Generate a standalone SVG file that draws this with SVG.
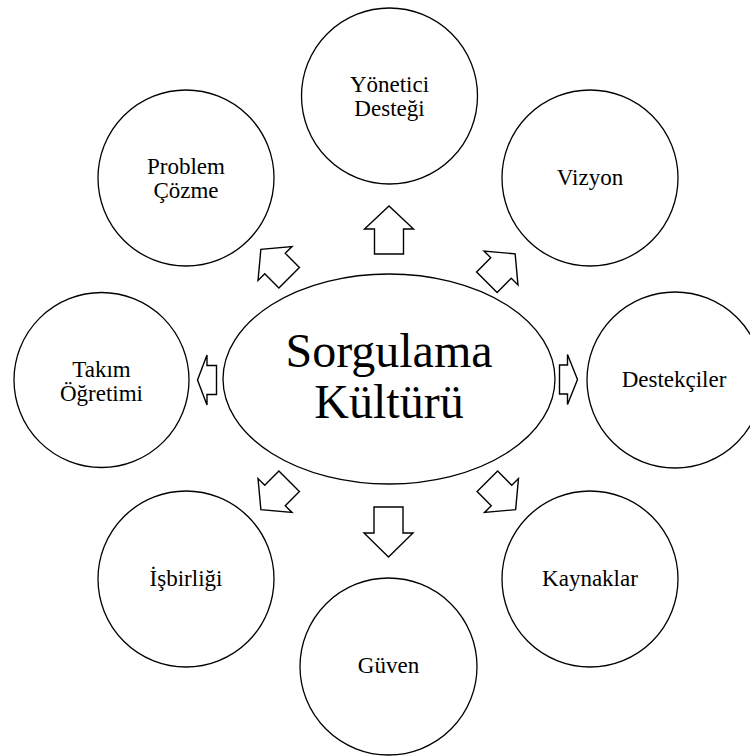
<svg xmlns="http://www.w3.org/2000/svg" width="750" height="756" viewBox="0 0 750 756">
<style>
.n{fill:#fff;stroke:#000;stroke-width:1.3}
.a{fill:#fff;stroke:#000;stroke-width:1.4;stroke-linejoin:miter}
</style>
<rect width="750" height="756" fill="#fff"/>
<g id="connectors">
<polygon class="a" transform="translate(389,230) rotate(-90)" points="-24,-14.5 1,-14.5 1,-24.5 24,0 1,24.5 1,14.5 -24,14.5"/>
<polygon class="a" transform="translate(388.5,532) rotate(90)" points="-25,-14.5 1,-14.5 1,-24.5 25,0 1,24.5 1,14.5 -25,14.5"/>
<polygon class="a" transform="translate(568.5,379.5)" points="-9,-14.5 -1,-14.5 -1,-25 9,0 -1,25 -1,14.5 -9,14.5"/>
<polygon class="a" transform="translate(207,380) rotate(180)" points="-9.5,-14.5 0,-14.5 0,-25 9.5,0 0,25 0,14.5 -9.5,14.5"/>
<polygon class="a" transform="translate(501,268) rotate(-45)" points="-20,-14.5 0,-14.5 0,-24 20,0 0,24 0,14.5 -20,14.5"/>
<polygon class="a" transform="translate(501.5,495.5) rotate(45)" points="-20,-14.5 0,-14.5 0,-24 20,0 0,24 0,14.5 -20,14.5"/>
<polygon class="a" transform="translate(275,495.5) rotate(135)" points="-20,-14.5 0,-14.5 0,-24 20,0 0,24 0,14.5 -20,14.5"/>
<polygon class="a" transform="translate(275,263.5) rotate(-135)" points="-20,-14.5 0,-14.5 0,-24 20,0 0,24 0,14.5 -20,14.5"/>
</g>
<g id="center">
<ellipse class="n" cx="389" cy="379" rx="166" ry="105"/>
<text x="389" y="367" font-family="Liberation Serif" font-size="48" text-anchor="middle" fill="#000">Sorgulama</text>
<text x="389" y="418" font-family="Liberation Serif" font-size="48" text-anchor="middle" fill="#000">Kültürü</text>
</g>
<g id="yonetici">
<circle class="n" cx="389.5" cy="96" r="88"/>
<text x="389.5" y="92" font-family="Liberation Serif" font-size="23" text-anchor="middle" fill="#000">Yönetici</text>
<text x="389.5" y="116" font-family="Liberation Serif" font-size="23" text-anchor="middle" fill="#000">Desteği</text>
</g>
<g id="vizyon">
<circle class="n" cx="590" cy="178" r="88"/>
<text x="590" y="185" font-family="Liberation Serif" font-size="23" text-anchor="middle" fill="#000">Vizyon</text>
</g>
<g id="destekciler">
<circle class="n" cx="675" cy="380" r="88"/>
<text x="674" y="387" font-family="Liberation Serif" font-size="23" text-anchor="middle" fill="#000">Destekçiler</text>
</g>
<g id="kaynaklar">
<circle class="n" cx="590" cy="579" r="88"/>
<text x="590" y="586" font-family="Liberation Serif" font-size="23" text-anchor="middle" fill="#000">Kaynaklar</text>
</g>
<g id="guven">
<circle class="n" cx="388.5" cy="666.5" r="88.5"/>
<text x="388.5" y="673" font-family="Liberation Serif" font-size="23" text-anchor="middle" fill="#000">Güven</text>
</g>
<g id="isbirligi">
<circle class="n" cx="186" cy="579" r="88"/>
<text x="186" y="586" font-family="Liberation Serif" font-size="23" text-anchor="middle" fill="#000">İşbirliği</text>
</g>
<g id="takim">
<circle class="n" cx="101.5" cy="380" r="87.5"/>
<text x="101.5" y="377" font-family="Liberation Serif" font-size="23" text-anchor="middle" fill="#000">Takım</text>
<text x="101.5" y="401" font-family="Liberation Serif" font-size="23" text-anchor="middle" fill="#000">Öğretimi</text>
</g>
<g id="problem">
<circle class="n" cx="186" cy="178" r="88"/>
<text x="186" y="174" font-family="Liberation Serif" font-size="23" text-anchor="middle" fill="#000">Problem</text>
<text x="186" y="198" font-family="Liberation Serif" font-size="23" text-anchor="middle" fill="#000">Çözme</text>
</g>
</svg>
